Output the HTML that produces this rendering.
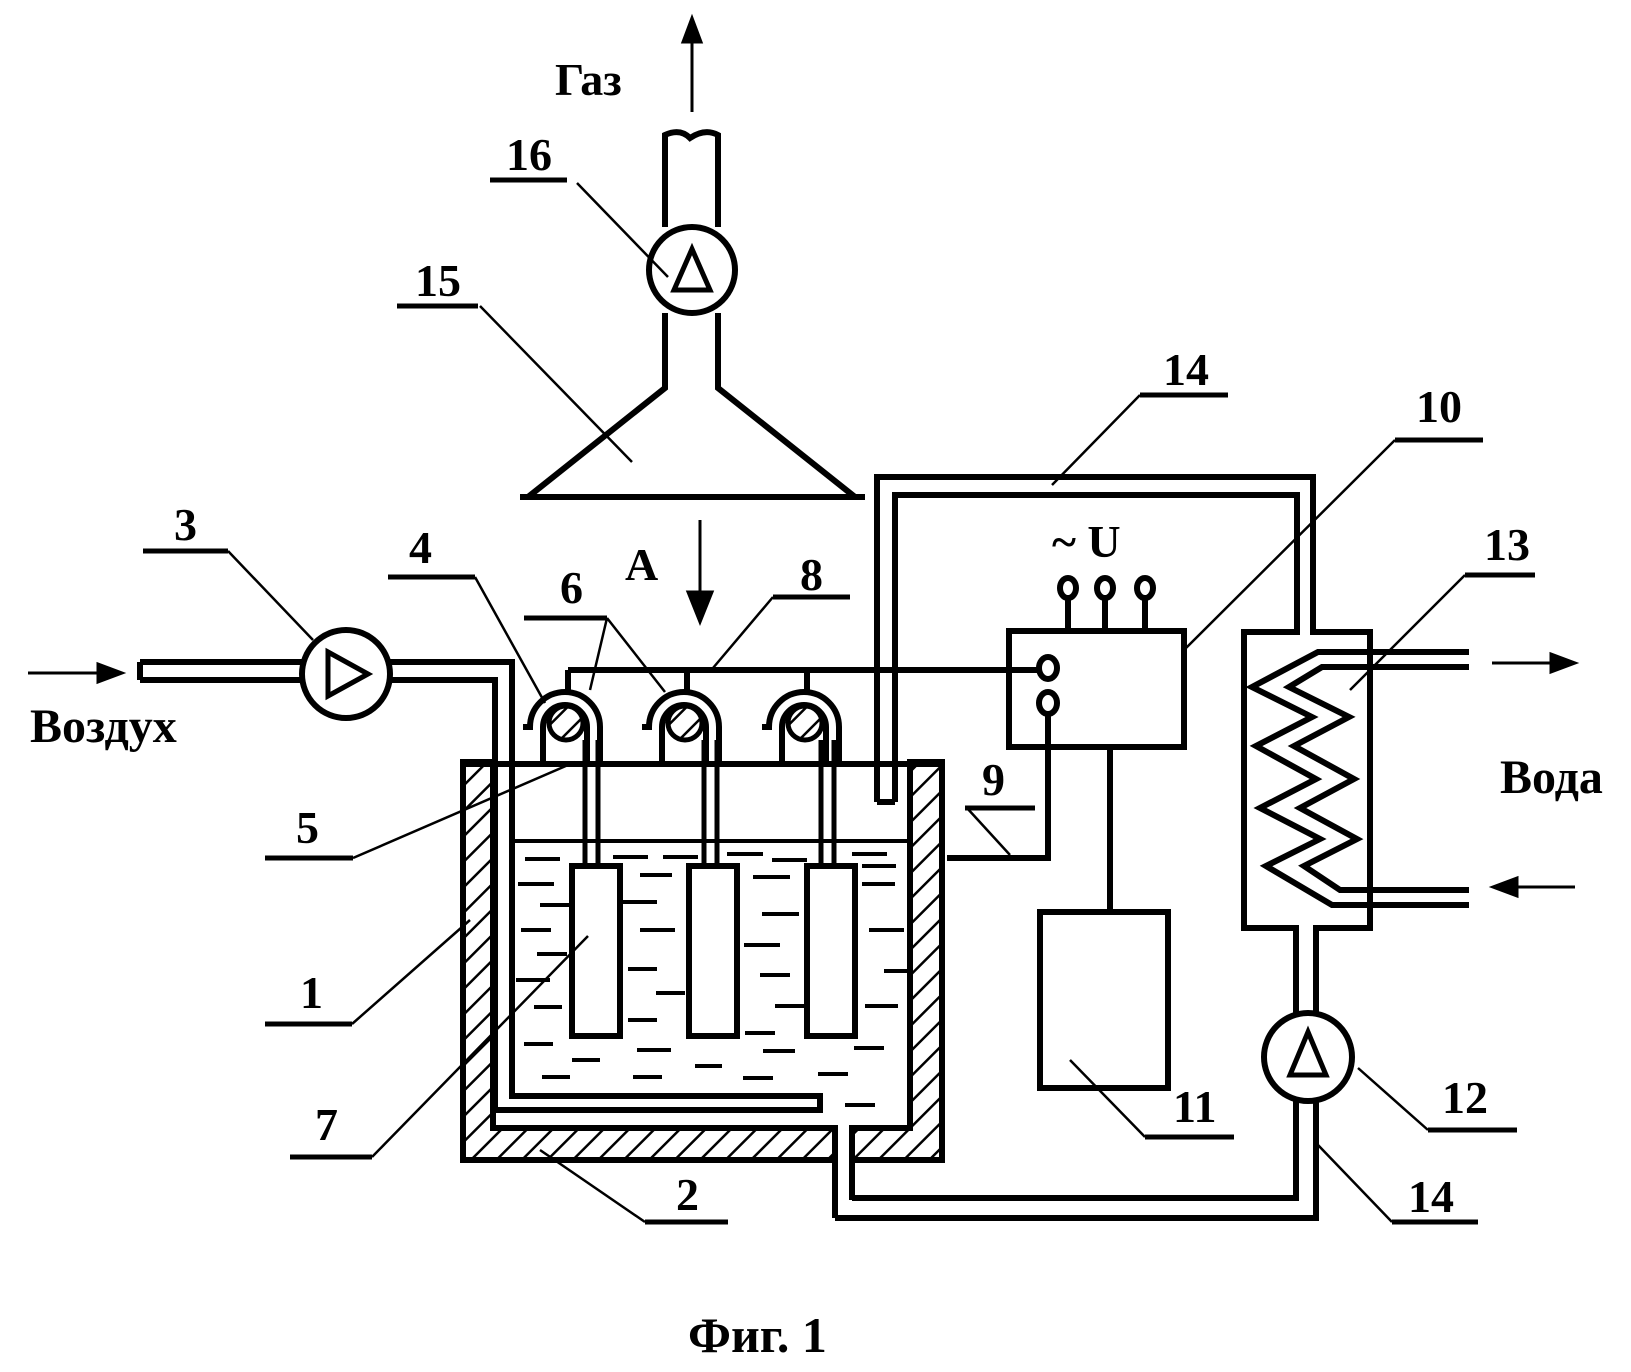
<!DOCTYPE html>
<html><head><meta charset="utf-8"><style>
html,body{margin:0;padding:0;background:#fff;}
svg{display:block;}
text{font-family:"Liberation Serif",serif;font-weight:bold;fill:#000;}
</style></head><body>
<svg width="1631" height="1372" viewBox="0 0 1631 1372" xmlns="http://www.w3.org/2000/svg">
<defs>
<pattern id="h" patternUnits="userSpaceOnUse" width="18" height="18" patternTransform="rotate(45)">
<line x1="0" y1="0" x2="0" y2="18" stroke="#000" stroke-width="5"/>
</pattern>
</defs>
<g fill="none" stroke="#000" stroke-width="6" stroke-linejoin="miter">
<path d="M463 762 H493 V1128 H835 V1160 H463 Z" fill="url(#h)"/>
<path d="M910 762 H942 V1160 H852 V1128 H910 Z" fill="url(#h)"/>
<line x1="463" y1="764" x2="942" y2="764"/>
<line x1="852" y1="1128" x2="852" y2="1200"/>
<line x1="835" y1="1128" x2="835" y2="1218"/>
<line x1="510" y1="841" x2="910" y2="841" stroke-width="4"/>
<path d="M140 662 H302"/><path d="M140 680 H302"/><path d="M140 662 V680"/>
<path d="M390 662 H512 V1096 H820 V1110 H495 V680 H390"/>
<circle cx="346" cy="674" r="44"/>
<path d="M328 652 L368 674 L328 696 Z" stroke-width="5"/>
<rect x="572" y="866" width="48" height="170"/>
<rect x="689" y="866" width="48" height="170"/>
<rect x="807" y="866" width="48" height="170"/>
<g stroke-width="5">
<path d="M585 866 V740 M598 866 V740"/>
<path d="M704 866 V740 M717 866 V740"/>
<path d="M821 866 V740 M834 866 V740"/>
</g>
<g id="hd">
<path d="M523 727 H530 A35 35 0 0 1 600 727 V764"/>
<path d="M543 764 V727 A22 22 0 0 1 587 727 V764"/>
<circle cx="566" cy="723" r="17" fill="url(#h)" stroke-width="5"/>
<line x1="568" y1="670" x2="568" y2="692"/>
</g>
<use href="#hd" x="119"/>
<use href="#hd" x="239"/>
<path d="M568 670 H1038"/>
<ellipse cx="1048" cy="668" rx="9" ry="11"/>
<ellipse cx="1048" cy="703" rx="9" ry="11"/>
<path d="M1048 714 V858 H947"/>
<rect x="1009" y="631" width="175" height="116"/>
<path d="M1068 597 V631 M1105 597 V631 M1145 597 V631"/>
<ellipse cx="1068" cy="588" rx="8" ry="10"/>
<ellipse cx="1105" cy="588" rx="8" ry="10"/>
<ellipse cx="1145" cy="588" rx="8" ry="10"/>
<path d="M1110 747 V912"/>
<rect x="1040" y="912" width="128" height="176"/>
<path d="M877 802 V477 H1313 V632 H1370 V928 H1316 V1013"/>
<path d="M895 802 V495 H1297 V632 H1244 V928 H1296 V1013"/>
<path d="M877 802 H895"/>
<ellipse cx="1308" cy="1057" rx="44" ry="44"/>
<path d="M1308 1032 L1326 1075 L1290 1075 Z" stroke-width="5"/>
<path d="M1296 1100 V1198 H852"/>
<path d="M1316 1100 V1218 H835"/>
<path d="M1469 652 H1318 L1252 687 L1312 717 L1256 746 L1316 779 L1260 808 L1320 839 L1266 866 L1332 905 H1469"/>
<path d="M1469 667 H1322 L1289 687 L1349 717 L1294 746 L1354 779 L1300 808 L1357 839 L1304 866 L1340 890 H1469"/>
<path d="M665 227 V135 Q680 128 690 138 Q705 128 718 135 V227"/>
<circle cx="692" cy="270" r="43"/>
<path d="M692 249 L710 290 L674 290 Z" stroke-width="5"/>
<path d="M665 313 V388 L528 497 M718 313 V388 L855 497 M520 497 H865"/>
</g>
<g stroke="#000" stroke-width="3" fill="#000">
<line x1="692" y1="112" x2="692" y2="35"/><path d="M683 42 L692 18 L701 42 Z"/>
<line x1="700" y1="520" x2="700" y2="600"/><path d="M688 592 L700 622 L712 592 Z"/>
<line x1="28" y1="673" x2="105" y2="673"/><path d="M98 664 L122 673 L98 682 Z"/>
<line x1="1492" y1="663" x2="1558" y2="663"/><path d="M1551 654 L1575 663 L1551 672 Z"/>
<line x1="1575" y1="887" x2="1510" y2="887"/><path d="M1517 878 L1493 887 L1517 896 Z"/>
</g>
<g stroke="#000" stroke-width="4">
<path d="M525 859h35M613 857h35M663 857h35M727 854h36M772 860h35M852 854h35M640 875h32M753 877h37M862 866h34M518 884h36M862 884h33M540 905h30M623 902h34M762 914h37M521 930h30M640 930h35M869 930h35M537 954h30M744 945h36M628 969h29M760 975h30M884 971h25M516 980h34M656 993h29M775 1006h32M865 1006h33M534 1007h28M628 1020h29M745 1033h30M524 1044h29M572 1060h28M637 1050h34M763 1051h32M854 1048h30M695 1066h27M542 1077h28M633 1077h29M743 1078h30M818 1074h30M845 1105h30"/>
</g>
<g stroke="#000" stroke-width="5">
<path d="M143 551H228M388 577H475M524 618H607M773 597H850M265 858H353M265 1024H352M290 1157H372M645 1222H728M965 808H1035M1140 395H1228M1395 440H1483M1465 575H1535M1145 1137H1234M1428 1130H1517M1392 1222H1478M490 180H567M397 306H478"/>
</g>
<g stroke="#000" stroke-width="2.5">
<path d="M228 551L313 640M475 577L545 703M607 618L590 690M607 618L665 692M773 597L713 668M353 858L575 762M352 1024L470 920M372 1157L588 936M645 1222L540 1150M967 808L1010 855M1140 395L1052 485M1395 440L1184 650M1465 575L1350 690M1145 1137L1070 1060M1428 1130L1358 1068M1392 1222L1318 1145M577 183L668 277M480 306L632 462"/>
</g>
<g font-size="46">
<text x="555" y="95">Газ</text>
<text x="506" y="170">16</text>
<text x="415" y="296">15</text>
<text x="174" y="540">3</text>
<text x="409" y="563">4</text>
<text x="560" y="603">6</text>
<text x="625" y="580">A</text>
<text x="800" y="590">8</text>
<text x="296" y="843">5</text>
<text x="300" y="1008">1</text>
<text x="315" y="1140">7</text>
<text x="676" y="1210">2</text>
<text x="982" y="795">9</text>
<text x="1163" y="385">14</text>
<text x="1416" y="422">10</text>
<text x="1484" y="560">13</text>
<text x="1173" y="1122">11</text>
<text x="1442" y="1113">12</text>
<text x="1408" y="1212">14</text>
<text x="1052" y="557">~ U</text>
<text x="30" y="742" font-size="48">Воздух</text>
<text x="1500" y="793" font-size="48">Вода</text>
<text x="688" y="1352" font-size="50">Фиг. 1</text>
</g>
</svg>
</body></html>
